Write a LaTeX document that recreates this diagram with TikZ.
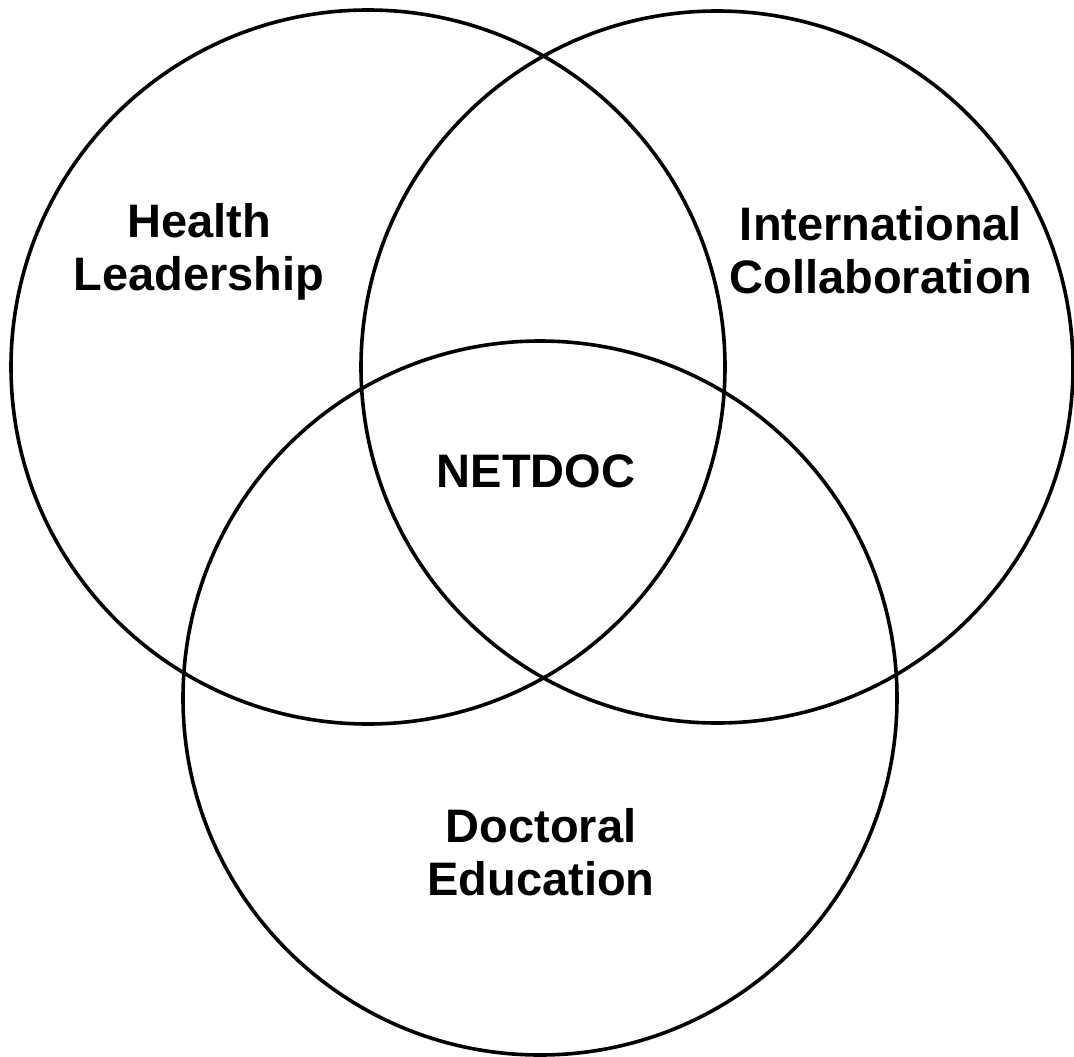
\documentclass[tikz,border=0pt]{standalone}
\usepackage{fontspec}
\setmainfont{Liberation Sans}
\begin{document}
\begin{tikzpicture}[x=1pt,y=-1pt,
  ring/.style={draw=black,line width=3.6pt},
  label/.style={font=\bfseries\fontsize{47}{53}\selectfont,align=center,inner sep=0pt}]
\useasboundingbox (0,0) rectangle (1074,1057);
% three overlapping sets
\coordinate (cL) at (368,367);
\coordinate (cR) at (717,367);
\coordinate (cB) at (540,698);
\draw[ring] (cL) circle[radius=357];
\draw[ring] (cR) circle[radius=356];
\draw[ring] (cB) circle[radius=357];
% set labels
\node[label] (lead) at (199,252) {Health\\Leadership};
\node[label] (intl) at (881,250) {International\\Collaboration};
\node[label] (doc) at (541,852) {Doctoral\\Education};
\node[label] (core) at (536,471) {NETDOC};
\end{tikzpicture}
\end{document}
